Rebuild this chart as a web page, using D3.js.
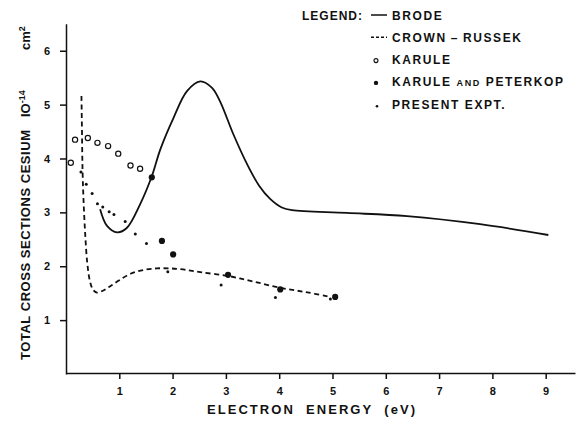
<!DOCTYPE html>
<html>
<head>
<meta charset="utf-8">
<script src="https://cdn.jsdelivr.net/npm/d3@7"></script>
<style>
  body { margin: 0; background: #fff; }
  svg { display: block; font-family: "Liberation Sans", Arial, sans-serif; font-weight: bold; }
  .axis path, .axis line { stroke: #111; stroke-width: 1.5; }
  .axis text { font-size: 11px; font-weight: bold; fill: #111; font-family: "Liberation Sans", Arial, sans-serif; }
</style>
</head>
<body>
<script>
(function() {
  var width = 584;
  var height = 423;

  // Brode (theory, solid)
  var brode = [
    [0.64, 3.06], [0.77, 2.75], [0.96, 2.63], [1.14, 2.71], [1.39, 3.15],
    [1.61, 3.67], [1.77, 4.17], [2.02, 4.76], [2.27, 5.25], [2.52, 5.43],
    [2.74, 5.31], [2.89, 5.06], [3.14, 4.45], [3.40, 3.89], [3.62, 3.50],
    [3.83, 3.25], [4.05, 3.09], [4.24, 3.04], [5.27, 2.99], [6.40, 2.93],
    [7.77, 2.78], [9.05, 2.58]
  ];

  // Crown-Russek (theory, dashed)
  var crownRussek = [
    [0.29, 5.16], [0.30, 4.5], [0.31, 3.8], [0.33, 3.2], [0.36, 2.6],
    [0.40, 2.05], [0.45, 1.72], [0.51, 1.56], [0.58, 1.51], [0.70, 1.55],
    [0.83, 1.63], [1.00, 1.74], [1.21, 1.86], [1.45, 1.93], [1.70, 1.96],
    [1.95, 1.96], [2.20, 1.94], [2.52, 1.89], [3.04, 1.82], [3.50, 1.72],
    [4.02, 1.60], [4.50, 1.52], [4.92, 1.44]
  ];

  // Karule (open circles)
  var karule = [
    [0.09, 3.92], [0.17, 4.35], [0.41, 4.38], [0.59, 4.29], [0.79, 4.23],
    [0.98, 4.09], [1.21, 3.87], [1.39, 3.81]
  ];

  // Karule and Peterkop (filled circles)
  var karulePeterkop = [
    [1.61, 3.65], [1.80, 2.47], [2.01, 2.22], [3.04, 1.84], [4.02, 1.57], [5.05, 1.43]
  ];

  // Present experiment (small dots)
  var present = [
    [0.28, 3.75], [0.38, 3.52], [0.49, 3.35], [0.59, 3.16], [0.69, 3.10],
    [0.81, 3.01], [0.90, 2.96], [1.11, 2.83], [1.30, 2.60], [1.51, 2.42],
    [1.91, 1.90], [2.91, 1.65], [3.93, 1.42], [4.96, 1.39]
  ];

  var xTicks = [1, 2, 3, 4, 5, 6, 7, 8, 9];
  var yTicks = [1, 2, 3, 4, 5, 6];

  var legendItems = [
    { name: 'BRODE', type: 'solid' },
    { name: 'CROWN\u2009\u2013\u2009RUSSEK', type: 'dashed' },
    { name: 'KARULE', type: 'open' },
    { name: 'KARULE AND PETERKOP', type: 'filled' },
    { name: 'PRESENT EXPT.', type: 'dot' }
  ];

  var svg = d3.select('body')
    .append('svg')
    .attr('width', width)
    .attr('height', height);

  var xScale = d3.scaleLinear().domain([0, 9.55]).range([66, 575]);
  var yScale = d3.scaleLinear().domain([0, 6.5]).range([374, 23.8]);

  // axes
  svg.append('g')
    .attr('class', 'x axis')
    .attr('transform', 'translate(0,373)')
    .call(d3.axisBottom(xScale).tickValues(xTicks).tickFormat(d3.format('d'))
      .tickSize(6).tickPadding(6).tickSizeOuter(0))
    .selectAll('text').attr('dy', '0.9em');

  svg.append('g')
    .attr('class', 'y axis')
    .attr('transform', 'translate(66,0)')
    .call(d3.axisLeft(yScale).tickValues(yTicks).tickFormat(d3.format('d'))
      .tickSize(6).tickPadding(10).tickSizeOuter(0));

  // curves
  var line = d3.line()
    .x(d => xScale(d[0]))
    .y(d => yScale(d[1]))
    .curve(d3.curveCatmullRom.alpha(0.5));

  svg.append('path')
    .datum(brode)
    .attr('d', line)
    .attr('fill', 'none')
    .attr('stroke', '#111')
    .attr('stroke-width', 1.8);

  svg.append('path')
    .datum(crownRussek)
    .attr('d', line)
    .attr('fill', 'none')
    .attr('stroke', '#111')
    .attr('stroke-width', 1.8)
    .attr('stroke-dasharray', '5,3.5');

  // points
  svg.append('g').selectAll('circle')
    .data(karule)
    .join('circle')
    .attr('cx', d => xScale(d[0]))
    .attr('cy', d => yScale(d[1]))
    .attr('r', 2.6)
    .attr('fill', '#fff')
    .attr('stroke', '#111')
    .attr('stroke-width', 1.2);

  svg.append('g').selectAll('circle')
    .data(karulePeterkop)
    .join('circle')
    .attr('cx', d => xScale(d[0]))
    .attr('cy', d => yScale(d[1]))
    .attr('r', 3.1)
    .attr('fill', '#111');

  svg.append('g').selectAll('circle')
    .data(present)
    .join('circle')
    .attr('cx', d => xScale(d[0]))
    .attr('cy', d => yScale(d[1]))
    .attr('r', 1.5)
    .attr('fill', '#111');

  // axis titles
  svg.append('text')
    .attr('x', 207)
    .attr('y', 414)
    .attr('textLength', 208)
    .attr('lengthAdjust', 'spacing')
    .attr('font-size', 13)
    .attr('fill', '#111')
    .style('white-space', 'pre')
    .text('ELECTRON  ENERGY  (eV)');

  var yTitle = svg.append('g').attr('transform', 'translate(30,0) rotate(-90)');
  yTitle.append('text')
    .attr('x', -360)
    .attr('y', 0)
    .attr('textLength', 230)
    .attr('lengthAdjust', 'spacing')
    .attr('font-size', 13)
    .attr('fill', '#111')
    .text('TOTAL CROSS SECTIONS CESIUM');
  var unit = yTitle.append('text')
    .attr('x', -117)
    .attr('y', 0)
    .attr('font-size', 13)
    .attr('fill', '#111');
  unit.append('tspan').text('IO');
  unit.append('tspan').attr('dy', -5).attr('font-size', 9).text('-14');
  var cm = yTitle.append('text')
    .attr('x', -50)
    .attr('y', 0)
    .attr('font-size', 13)
    .attr('fill', '#111');
  cm.append('tspan').text('cm');
  cm.append('tspan').attr('dy', -5).attr('font-size', 9).text('2');

  // legend
  var legend = svg.append('g').attr('font-size', 12).attr('fill', '#111').style('letter-spacing', '1.6px');
  legend.append('text').attr('x', 302).attr('y', 19.5).style('letter-spacing', '1px').text('LEGEND:');

  var rows = legend.selectAll('g.row')
    .data(legendItems)
    .join('g')
    .attr('class', 'row')
    .attr('transform', (d, i) => 'translate(0,' + (15 + i * 22.3) + ')');

  rows.each(function(d) {
    var g = d3.select(this);
    if (d.type === 'solid' || d.type === 'dashed') {
      g.append('line')
        .attr('x1', 371).attr('x2', 387)
        .attr('y1', 0).attr('y2', 0)
        .attr('stroke', '#111')
        .attr('stroke-width', 1.5)
        .attr('stroke-dasharray', d.type === 'dashed' ? '3,2' : null);
    } else if (d.type === 'open') {
      g.append('circle').attr('cx', 376).attr('cy', 1).attr('r', 2)
        .attr('fill', '#fff').attr('stroke', '#111').attr('stroke-width', 1.1);
    } else if (d.type === 'filled') {
      g.append('circle').attr('cx', 376).attr('cy', 1).attr('r', 2.2).attr('fill', '#111');
    } else {
      g.append('circle').attr('cx', 377).attr('cy', 2).attr('r', 1.3).attr('fill', '#111');
    }
    var t = g.append('text').attr('x', 392).attr('y', 4.5);
    if (d.type === 'filled') {
      t.append('tspan').text('KARULE ');
      t.append('tspan').attr('font-size', 9).text('AND');
      t.append('tspan').text(' PETERKOP');
    } else {
      t.text(d.name);
    }
  });
})();
</script>
</body>
</html>
